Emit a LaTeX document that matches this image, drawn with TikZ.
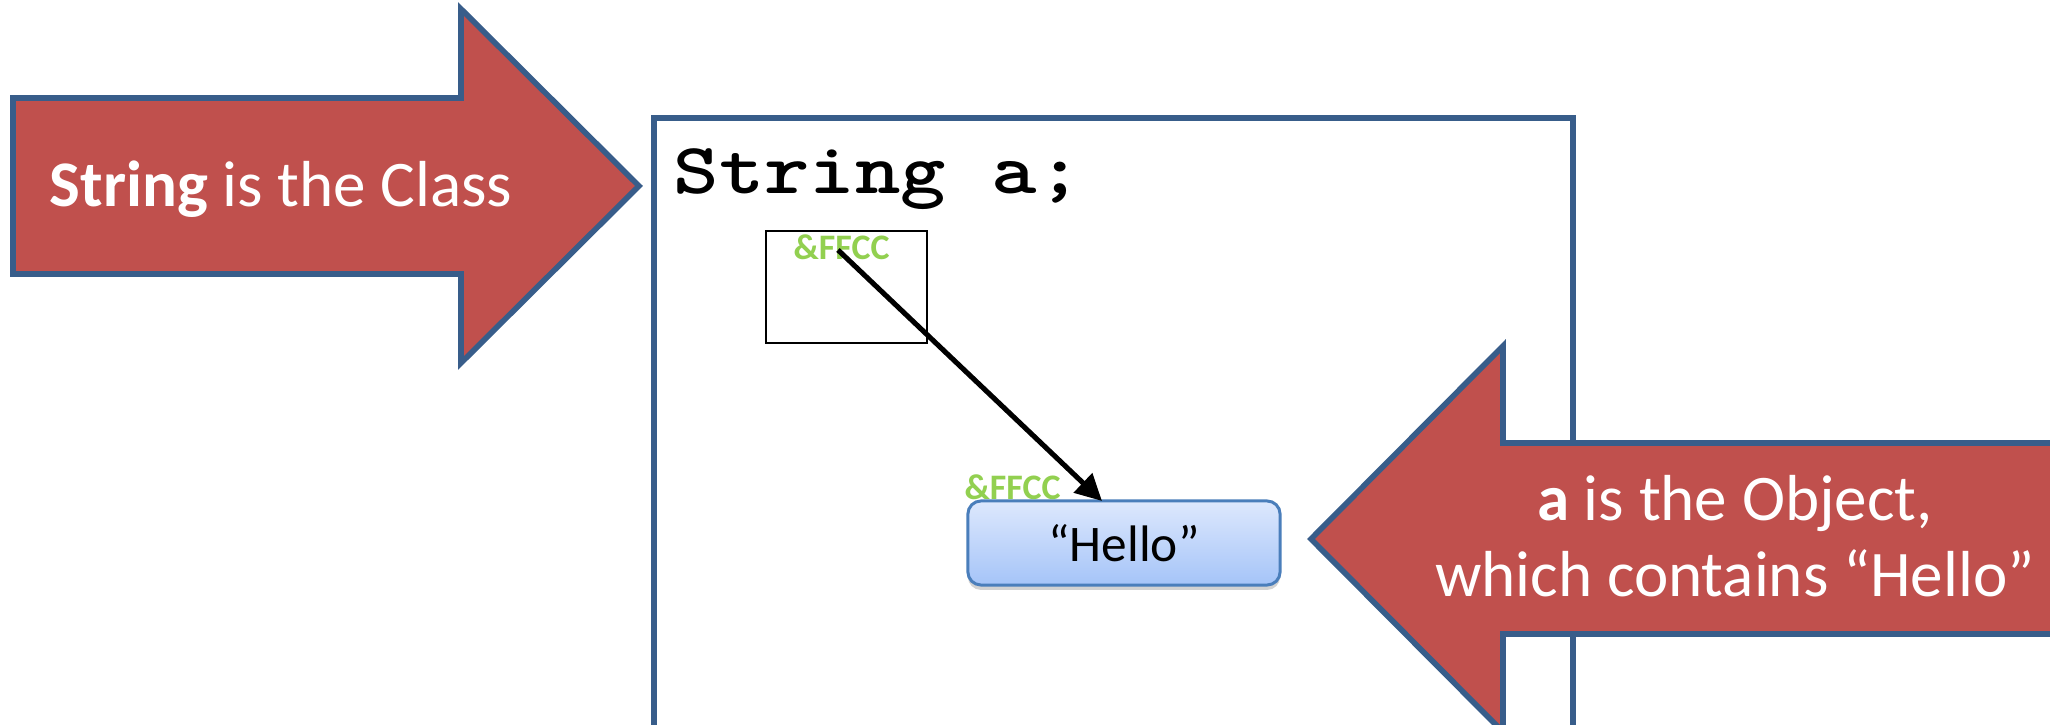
\documentclass[tikz,border=0pt]{standalone}
\usepackage{fontspec}
\setmainfont{Carlito}
\newfontfamily\codefont{lmmonolt10-bold.otf}
\usetikzlibrary{arrows.meta,shadows}
\definecolor{arrowred}{HTML}{C0504D}
\definecolor{edgeblue}{HTML}{385D8A}
\definecolor{hexgreen}{HTML}{92D050}
\definecolor{hellotop}{HTML}{DDE8FD}
\definecolor{hellobot}{HTML}{A5C4F8}
\definecolor{helloedge}{HTML}{4A7EBB}
\tikzset{
  bigarrow/.style={fill=arrowred, draw=edgeblue, line width=1.6pt, line join=miter},
  arrowtext/.style={text=white, inner sep=0pt, font=\fontsize{18.5}{22}\selectfont},
  hexlabel/.style={text=hexgreen, inner sep=0pt, font=\fontsize{10.2}{12}\selectfont\bfseries},
  varbox/.style={draw=black, line width=0.75pt, inner sep=0pt, minimum width=1.61cm, minimum height=1.12cm},
  hellobox/.style={draw=helloedge, line width=0.85pt, rounded corners=3.7pt, top color=hellotop, bottom color=hellobot,
    minimum width=3.12cm, minimum height=0.84cm, inner sep=0pt, font=\fontsize{14.6}{17}\selectfont,
    drop shadow={opacity=0.35, shadow xshift=0pt, shadow yshift=-1.4pt}},
  ptr/.style={draw=black, line width=1.45pt, -{Triangle[length=7.5pt, width=7.4pt]}}
}
\begin{document}
\begin{tikzpicture}[x=0.01cm, y=-0.01cm]
\clip (0,0) rectangle (2050,725);
\fill[white] (0,0) rectangle (2050,725);
% main frame
\draw[draw=edgeblue, line width=1.5pt] (654,760) -- (654,118) -- (1573,118) -- (1573,760);
% left arrow
\draw[bigarrow] (13,98) -- (461,98) -- (461,9) -- (639,186) -- (461,363) -- (461,274) -- (13,274) -- cycle;
\node[arrowtext, anchor=base] (cls) at (281,207) {\textbf{String} is the Class};
% code
\node[anchor=base west, inner sep=0pt, font=\codefont\fontsize{20.5}{24}\selectfont] (code) at (673,194) {\scalebox{1.2}[1]{String a;}};
% variable box
\node[varbox] (var) at (846.5,287) {};
\node[hexlabel, anchor=base west] (hex1) at (793,260) {\&FFCC};
% hello box
\node[hellobox] (hello) at (1124,543) {“Hello”};
\node[hexlabel, anchor=base west] (hex2) at (964,500) {\&FFCC};
% pointer
\coordinate (ptrstart) at (838,250);
\coordinate (ptrend) at (1102,501);
\draw[ptr] (ptrstart) -- (ptrend);
% right arrow
\draw[bigarrow] (1311,539) -- (1503,346) -- (1503,443) -- (2080,443) -- (2080,634) -- (1503,634) -- (1503,732) -- cycle;
\node[arrowtext, anchor=base] (obj1) at (1735,521) {\textbf{a} is the Object,};
\node[arrowtext, anchor=base] (obj2) at (1735,597) {which contains “Hello”};
\end{tikzpicture}
\end{document}
